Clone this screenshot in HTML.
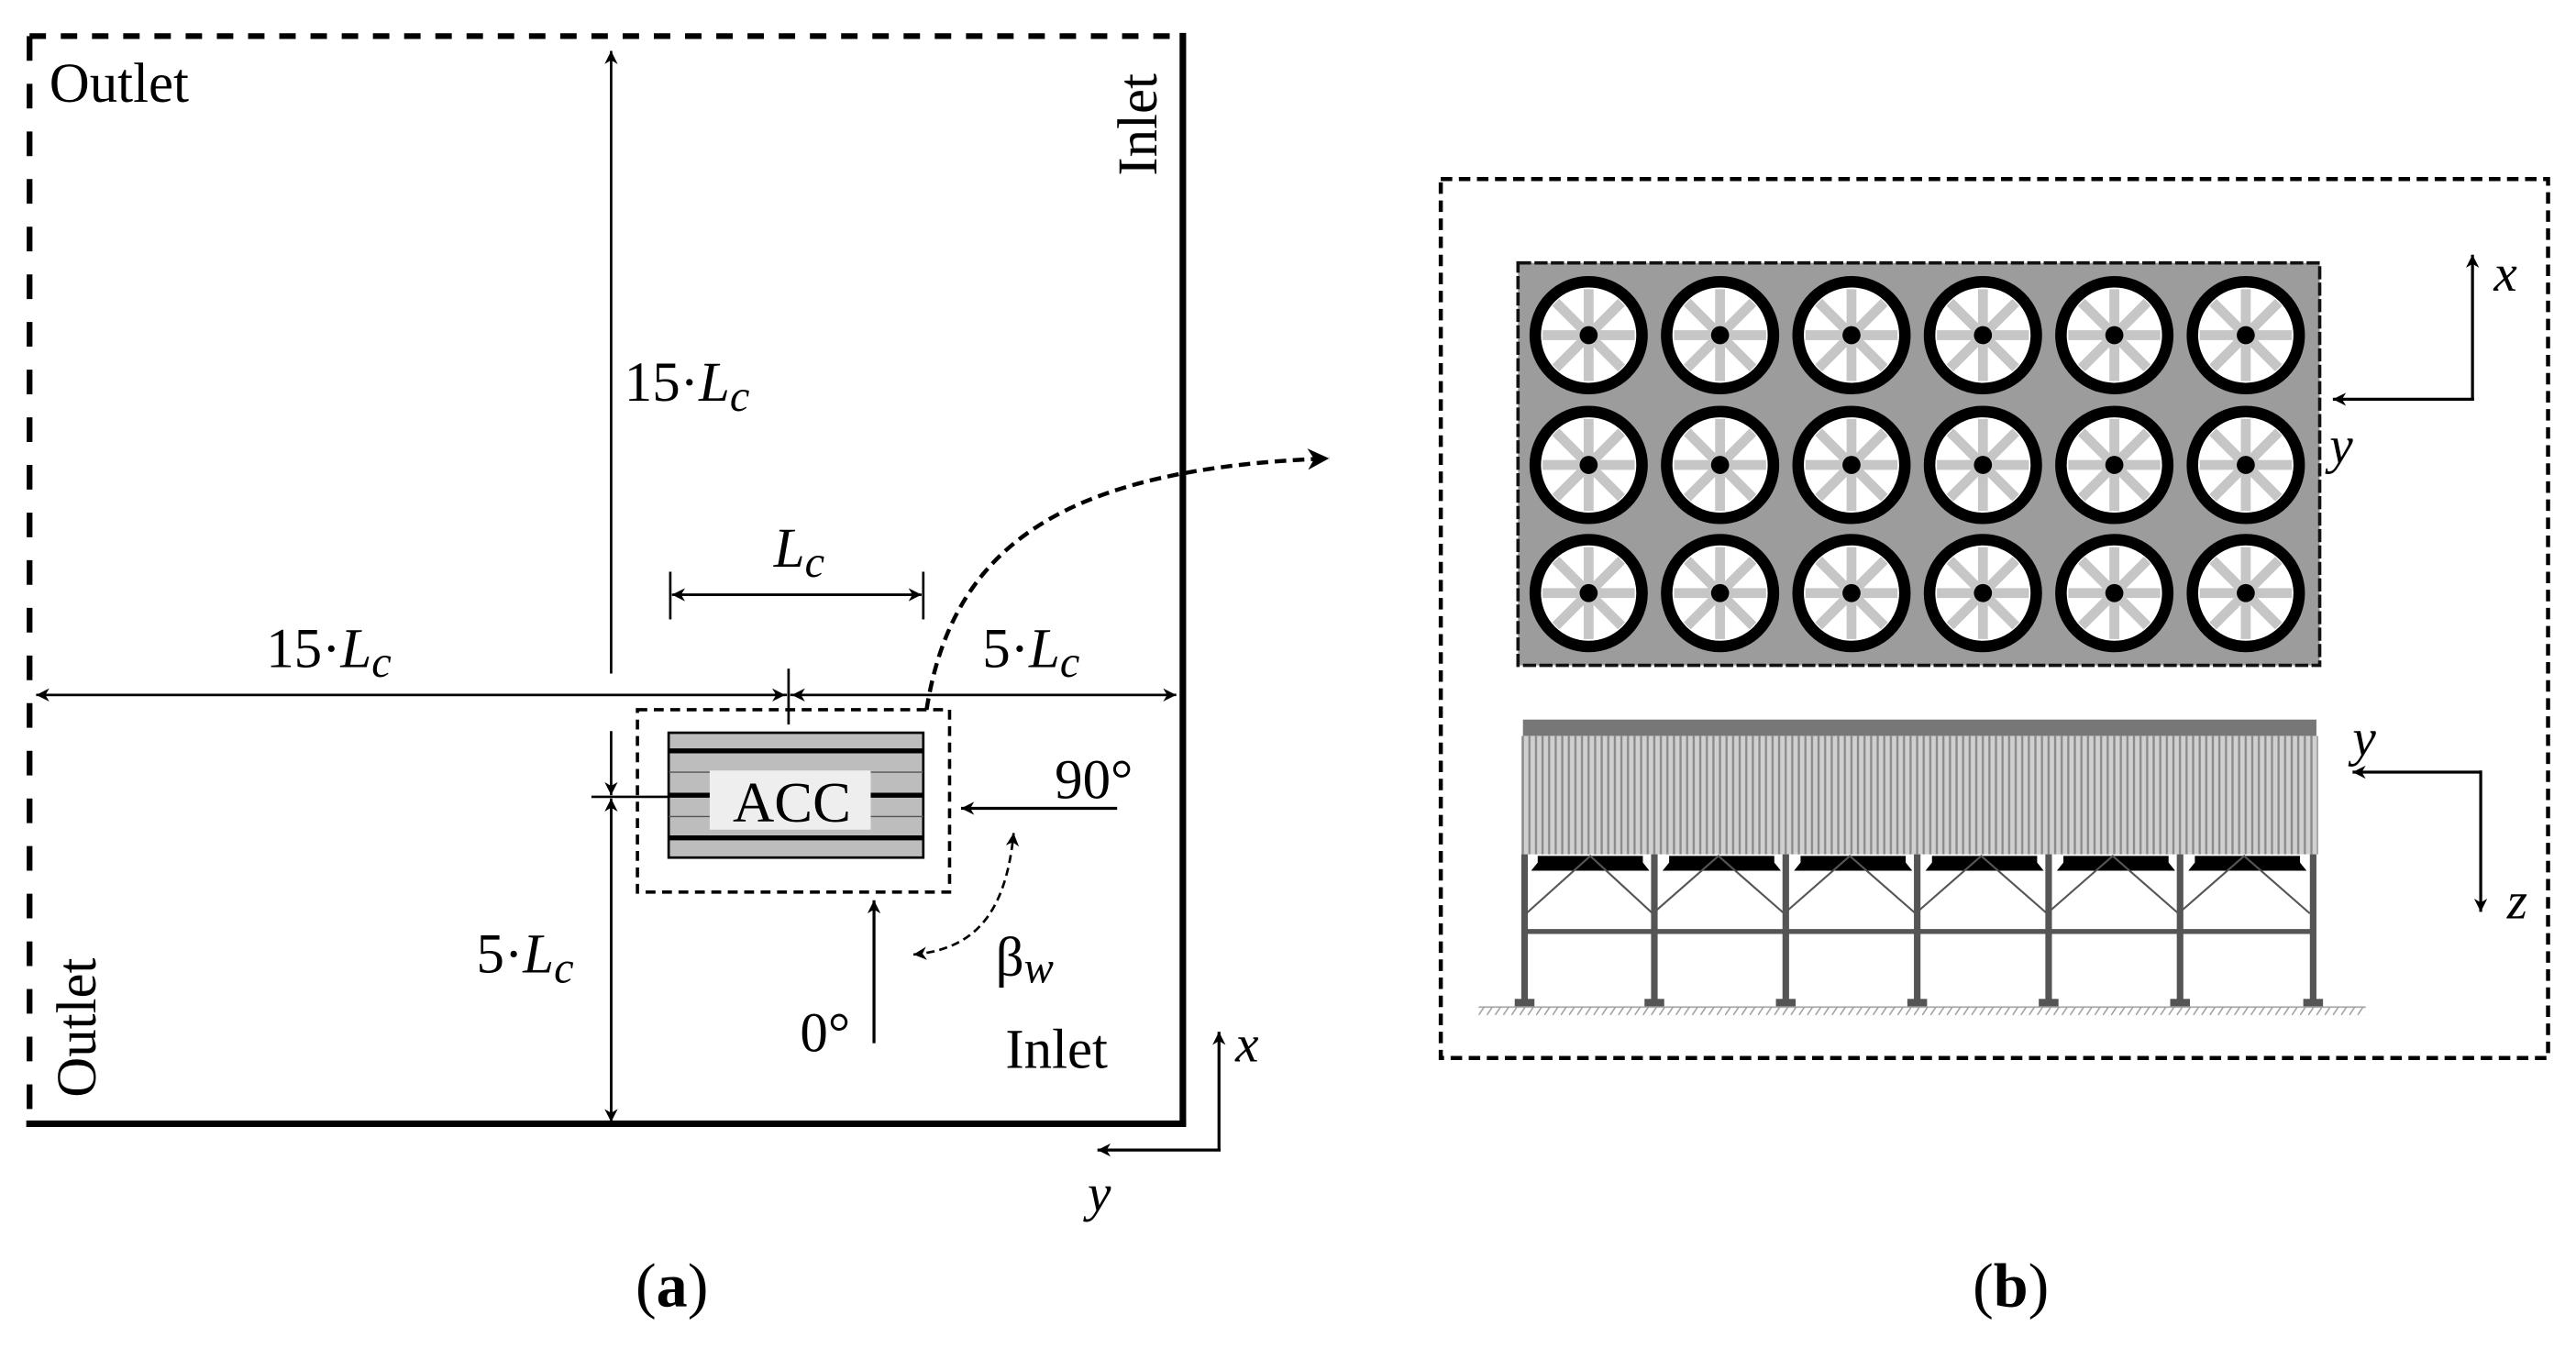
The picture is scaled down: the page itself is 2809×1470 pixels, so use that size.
<!DOCTYPE html>
<html><head><meta charset="utf-8"><style>
html,body{margin:0;padding:0;background:#fff;}
svg{display:block;}
</style></head><body>
<svg width="2809" height="1470" viewBox="0 0 1568 820.5" preserveAspectRatio="none" xmlns="http://www.w3.org/2000/svg" font-family="'Liberation Serif', 'Times New Roman', serif">
<defs>
<marker id="ah" viewBox="0 0 10 10" refX="10" refY="5" markerWidth="11" markerHeight="8" markerUnits="userSpaceOnUse" orient="auto"><path d="M0,0 L10,5 L0,10 L3,5 Z" fill="#000"/></marker>
<marker id="ahs" viewBox="0 0 10 10" refX="10" refY="5" markerWidth="11" markerHeight="8" markerUnits="userSpaceOnUse" orient="auto-start-reverse"><path d="M0,0 L10,5 L0,10 L3,5 Z" fill="#000"/></marker>
<marker id="ahb" viewBox="0 0 10 10" refX="10" refY="5" markerWidth="16" markerHeight="13" markerUnits="userSpaceOnUse" orient="auto"><path d="M0,0 L10,5 L0,10 L3,5 Z" fill="#000"/></marker>
<pattern id="vstripe" width="4" height="10" patternUnits="userSpaceOnUse"><rect width="4" height="10" fill="#d0d0d0"/><rect x="2.3" width="1.3" height="10" fill="#8a8a8a"/></pattern>
<pattern id="hatch" width="5" height="6" patternUnits="userSpaceOnUse"><line x1="4" y1="0" x2="0" y2="6" stroke="#999" stroke-width="0.8"/></pattern>
<g id="fan">
<circle r="32.5" fill="#fff" stroke="#000" stroke-width="7"/>
<g stroke="#c6c6c6" stroke-width="6">
<line x1="-28" y1="0" x2="28" y2="0"/><line x1="0" y1="-28" x2="0" y2="28"/>
<line x1="-20" y1="-20" x2="20" y2="20"/><line x1="-20" y1="20" x2="20" y2="-20"/>
</g>
<circle r="5.5" fill="#000"/>
</g>
</defs>

<!-- Panel (a) -->
<line x1="18" y1="22" x2="718" y2="22" stroke="#000" stroke-width="3.5" stroke-dasharray="10,9"/>
<line x1="18" y1="22" x2="18" y2="683" stroke="#000" stroke-width="3.5" stroke-dasharray="15,14"/>
<line x1="720" y1="20" x2="720" y2="685" stroke="#000" stroke-width="4"/>
<line x1="16" y1="684" x2="722" y2="684" stroke="#000" stroke-width="4"/>

<text x="30" y="62" font-size="34">Outlet</text>
<text transform="translate(704,107) rotate(-90)" font-size="34">Inlet</text>
<text transform="translate(58,668) rotate(-90)" font-size="34">Outlet</text>
<text x="612" y="650" font-size="34">Inlet</text>

<line x1="372" y1="410" x2="372" y2="31" stroke="#000" stroke-width="1.5" marker-end="url(#ah)"/>
<text x="380" y="244" font-size="34">15·<tspan font-style="italic">L</tspan><tspan font-style="italic" font-size="27" dy="6">c</tspan></text>

<line x1="479" y1="423" x2="22" y2="423" stroke="#000" stroke-width="1.5" marker-end="url(#ah)"/>
<line x1="24" y1="423" x2="478" y2="423" stroke="#000" stroke-width="1.5" marker-end="url(#ah)"/>
<line x1="481" y1="423" x2="716" y2="423" stroke="#000" stroke-width="1.5" marker-end="url(#ah)"/>
<line x1="714" y1="423" x2="482" y2="423" stroke="#000" stroke-width="1.5" marker-end="url(#ah)"/>
<line x1="480" y1="407" x2="480" y2="441" stroke="#000" stroke-width="1.5"/>
<text x="162" y="406" font-size="34">15·<tspan font-style="italic">L</tspan><tspan font-style="italic" font-size="27" dy="6">c</tspan></text>
<text x="598" y="406" font-size="34">5·<tspan font-style="italic">L</tspan><tspan font-style="italic" font-size="27" dy="6">c</tspan></text>

<line x1="408" y1="348" x2="408" y2="377" stroke="#000" stroke-width="1.5"/>
<line x1="562" y1="348" x2="562" y2="377" stroke="#000" stroke-width="1.5"/>
<line x1="410" y1="362" x2="561" y2="362" stroke="#000" stroke-width="1.5" marker-end="url(#ah)"/>
<line x1="560" y1="362" x2="409" y2="362" stroke="#000" stroke-width="1.5" marker-end="url(#ah)"/>
<text x="471" y="345" font-size="34" font-style="italic">L<tspan font-size="27" dy="6">c</tspan></text>

<rect x="388" y="432" width="190" height="111" fill="none" stroke="#000" stroke-width="2" stroke-dasharray="6,4"/>
<rect x="407" y="446" width="155" height="76" fill="#bdbdbd" stroke="#000" stroke-width="1.5"/>
<g stroke="#555" stroke-width="0.8">
<line x1="407" y1="470" x2="562" y2="470"/><line x1="407" y1="497" x2="562" y2="497"/>
</g>
<g stroke="#000" stroke-width="3">
<line x1="407" y1="457" x2="562" y2="457"/><line x1="407" y1="484" x2="562" y2="484"/><line x1="407" y1="510" x2="562" y2="510"/>
</g>
<rect x="432" y="469" width="98" height="36" fill="#eeeeee"/>
<text x="482" y="500" font-size="35" text-anchor="middle">ACC</text>

<line x1="360" y1="485" x2="407" y2="485" stroke="#000" stroke-width="1.5"/>
<line x1="372" y1="445" x2="372" y2="484" stroke="#000" stroke-width="1.5" marker-end="url(#ah)"/>
<line x1="372" y1="682" x2="372" y2="486" stroke="#000" stroke-width="1.5" marker-end="url(#ah)"/>
<line x1="372" y1="490" x2="372" y2="683" stroke="#000" stroke-width="1.5" marker-end="url(#ah)"/>
<text x="290" y="592" font-size="34">5·<tspan font-style="italic">L</tspan><tspan font-style="italic" font-size="27" dy="6">c</tspan></text>

<line x1="680" y1="492" x2="585" y2="492" stroke="#000" stroke-width="1.8" marker-end="url(#ah)"/>
<text x="642" y="486" font-size="34">90°</text>
<line x1="532" y1="635" x2="532" y2="548" stroke="#000" stroke-width="1.8" marker-end="url(#ah)"/>
<text x="487" y="640" font-size="34">0°</text>
<path d="M556,581 C590,578 612,560 617,507" fill="none" stroke="#000" stroke-width="1.5" stroke-dasharray="5,3" marker-start="url(#ahs)" marker-end="url(#ah)"/>
<text x="606" y="594" font-size="34">β<tspan font-style="italic" font-size="27" dy="4">w</tspan></text>

<line x1="742" y1="700" x2="742" y2="628" stroke="#000" stroke-width="1.8" marker-end="url(#ah)"/>
<line x1="743" y1="700" x2="668" y2="700" stroke="#000" stroke-width="1.8" marker-end="url(#ah)"/>
<text x="752" y="646" font-size="32" font-style="italic">x</text>
<text x="662" y="737" font-size="32" font-style="italic">y</text>

<path d="M564,432 C580,330 650,285 809,279" fill="none" stroke="#000" stroke-width="2.5" stroke-dasharray="7,4" marker-end="url(#ahb)"/>

<text x="409" y="795" font-size="38" text-anchor="middle">(<tspan font-weight="bold">a</tspan>)</text>
<text x="1224" y="795" font-size="38" text-anchor="middle">(<tspan font-weight="bold">b</tspan>)</text>

<!-- Panel (b) -->
<rect x="877" y="109" width="674" height="535" fill="none" stroke="#000" stroke-width="2.5" stroke-dasharray="7,4"/>
<rect x="924" y="160" width="488" height="245" fill="#9c9c9c" stroke="#111" stroke-width="2" stroke-dasharray="8,2"/>
<g>
<use href="#fan" x="967" y="204"/><use href="#fan" x="1047" y="204"/><use href="#fan" x="1127" y="204"/><use href="#fan" x="1207" y="204"/><use href="#fan" x="1287" y="204"/><use href="#fan" x="1367" y="204"/>
<use href="#fan" x="967" y="283"/><use href="#fan" x="1047" y="283"/><use href="#fan" x="1127" y="283"/><use href="#fan" x="1207" y="283"/><use href="#fan" x="1287" y="283"/><use href="#fan" x="1367" y="283"/>
<use href="#fan" x="967" y="361"/><use href="#fan" x="1047" y="361"/><use href="#fan" x="1127" y="361"/><use href="#fan" x="1207" y="361"/><use href="#fan" x="1287" y="361"/><use href="#fan" x="1367" y="361"/>
</g>
<line x1="1505" y1="243" x2="1505" y2="155" stroke="#000" stroke-width="1.8" marker-end="url(#ah)"/>
<line x1="1506" y1="243" x2="1420" y2="243" stroke="#000" stroke-width="1.8" marker-end="url(#ah)"/>
<text x="1518" y="177" font-size="32" font-style="italic">x</text>
<text x="1418" y="282" font-size="32" font-style="italic">y</text>

<rect x="927" y="438" width="483" height="10" fill="#777"/>
<rect x="926" y="448" width="485" height="72" fill="url(#vstripe)"/>
<g fill="#000">
<path d="M936,521 L1000,521 L1000,525 L1004,530 L932,530 L936,525Z"/>
<path d="M1016,521 L1080,521 L1080,525 L1084,530 L1012,530 L1016,525Z"/>
<path d="M1096,521 L1160,521 L1160,525 L1164,530 L1092,530 L1096,525Z"/>
<path d="M1176,521 L1240,521 L1240,525 L1244,530 L1172,530 L1176,525Z"/>
<path d="M1256,521 L1320,521 L1320,525 L1324,530 L1252,530 L1256,525Z"/>
<path d="M1336,521 L1400,521 L1400,525 L1404,530 L1332,530 L1336,525Z"/>
</g>
<path d="M929,556 L968,521 L1006,556 L1046,521 L1086,556 L1126,521 L1166,556 L1206,521 L1246,556 L1286,521 L1326,556 L1366,521 L1406,556" fill="none" stroke="#555" stroke-width="1.2"/>
<line x1="927" y1="567" x2="1409" y2="567" stroke="#555" stroke-width="3"/>
<g stroke="#555" stroke-width="4">
<line x1="928" y1="520" x2="928" y2="611"/><line x1="1007" y1="520" x2="1007" y2="611"/><line x1="1087" y1="520" x2="1087" y2="611"/><line x1="1167" y1="520" x2="1167" y2="611"/><line x1="1247" y1="520" x2="1247" y2="611"/><line x1="1327" y1="520" x2="1327" y2="611"/><line x1="1408" y1="520" x2="1408" y2="611"/>
</g>
<g fill="#555">
<rect x="922" y="608" width="12" height="5"/><rect x="1001" y="608" width="12" height="5"/><rect x="1081" y="608" width="12" height="5"/><rect x="1161" y="608" width="12" height="5"/><rect x="1241" y="608" width="12" height="5"/><rect x="1321" y="608" width="12" height="5"/><rect x="1402" y="608" width="12" height="5"/>
</g>
<line x1="900" y1="613" x2="1440" y2="613" stroke="#aaa" stroke-width="1"/>
<rect x="900" y="613" width="540" height="5" fill="url(#hatch)"/>
<line x1="1510" y1="470" x2="1432" y2="470" stroke="#000" stroke-width="1.8" marker-end="url(#ah)"/>
<line x1="1510" y1="469" x2="1510" y2="555" stroke="#000" stroke-width="1.8" marker-end="url(#ah)"/>
<text x="1432" y="460" font-size="32" font-style="italic">y</text>
<text x="1526" y="559" font-size="32" font-style="italic">z</text>
</svg>
</body></html>
